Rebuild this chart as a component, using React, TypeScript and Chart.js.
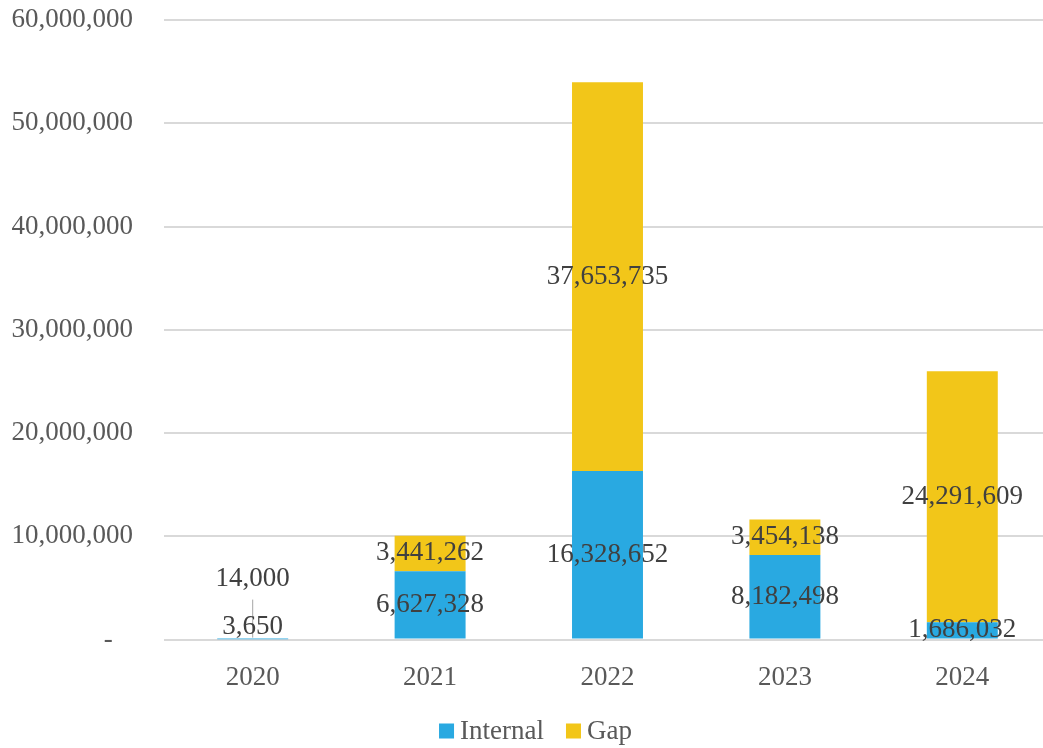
import React, { useEffect, useRef } from "react";
import { Chart, registerables } from "chart.js";

Chart.register(...registerables);

const years = ["2020", "2021", "2022", "2023", "2024"];
const internalValues = [3650, 6627328, 16328652, 8182498, 1686032];
const gapValues = [14000, 3441262, 37653735, 3454138, 24291609];
const yTicks = [0, 10000000, 20000000, 30000000, 40000000, 50000000, 60000000];

const FONT = "'Liberation Serif', 'Times New Roman', serif";
const fmt = (v: number) => v.toLocaleString("en-US");

const labelPlugin = {
  id: "segLabels",
  afterDatasetsDraw(chart: any) {
    const ctx = chart.ctx;
    ctx.save();
    ctx.font = `27px ${FONT}`;
    ctx.fillStyle = "#404040";
    ctx.textAlign = "center";
    ctx.textBaseline = "middle";
    chart.data.datasets.forEach((ds: any, di: number) => {
      const meta = chart.getDatasetMeta(di);
      meta.data.forEach((bar: any, i: number) => {
        const v = ds.data[i] as number;
        const zero = chart.scales.y.getPixelForValue(0);
        const h = Math.abs(bar.base - bar.y);
        if (h < 4) {
          if (di === 0) {
            ctx.strokeStyle = "#A6A6A6";
            ctx.lineWidth = 1;
            ctx.beginPath();
            ctx.moveTo(bar.x, zero - 2);
            ctx.lineTo(bar.x, zero - 40);
            ctx.stroke();
            ctx.fillText(fmt(v), bar.x, zero - 13);
          } else {
            ctx.fillText(fmt(v), bar.x, zero - 61);
          }
        } else {
          ctx.fillText(fmt(v), bar.x, (bar.y + bar.base) / 2);
        }
      });
    });
    ctx.restore();
  },
  afterDraw(chart: any) {
    const ctx = chart.ctx;
    ctx.save();
    ctx.font = `27px ${FONT}`;
    ctx.textBaseline = "middle";
    ctx.textAlign = "left";
    const items = chart.data.datasets.map((d: any) => ({
      text: d.label as string,
      color: d.backgroundColor as string,
      w: ctx.measureText(d.label).width,
    }));
    const box = 15, gapText = 6, gapItem = 22;
    const total = items.reduce((s: number, it: any) => s + box + gapText + it.w, 0) + gapItem * (items.length - 1);
    const cx = (chart.width - 24) / 2 + 24 - 2;
    const cy = 731;
    let x = cx - total / 2;
    items.forEach((it: any) => {
      ctx.fillStyle = it.color;
      ctx.fillRect(x, cy - box / 2, box, box);
      x += box + gapText;
      ctx.fillStyle = "#595959";
      ctx.fillText(it.text, x, cy + 1);
      x += it.w + gapItem;
    });
    ctx.restore();
  },
};

export default function App() {
  const ref = useRef<HTMLCanvasElement>(null);
  useEffect(() => {
    const canvas = ref.current!;
    const chart = new Chart(canvas, {
      type: "bar",
      data: {
        labels: years,
        datasets: [
          {
            label: "Internal",
            data: internalValues,
            backgroundColor: "#29A9E1",
            categoryPercentage: 1,
            barPercentage: 0.4,
          },
          {
            label: "Gap",
            data: gapValues,
            backgroundColor: "#F2C619",
            categoryPercentage: 1,
            barPercentage: 0.4,
          },
        ],
      },
      options: {
        responsive: false,
        animation: false,
        devicePixelRatio: 1,
        layout: { padding: { left: 0, top: 0, right: 0, bottom: 32 } },
        plugins: {
          tooltip: { enabled: false },
          legend: { display: false },
        },
        scales: {
          x: {
            stacked: true,
            grid: { display: false, drawTicks: false },
            border: { display: false },
            ticks: { font: { family: FONT, size: 27 }, color: "#595959", padding: 22 },
          },
          y: {
            stacked: true,
            min: 0,
            max: 60000000,
            afterFit: (s: any) => {
              s.width = 164;
              s.paddingTop = 20;
              s.paddingBottom = 0;
            },
            afterBuildTicks: (s: any) => {
              s.ticks = yTicks.map((v) => ({ value: v }));
            },
            grid: { color: "#D9D9D9", lineWidth: 2, drawTicks: false },
            border: { display: false },
            ticks: {
              font: { family: FONT, size: 27 },
              color: "#595959",
              padding: 31,
              callback: (v: any) => (Number(v) === 0 ? "-   " : fmt(Number(v))),
            },
          },
        },
      },
      plugins: [labelPlugin],
    });
    return () => chart.destroy();
  }, []);
  return (
    <div style={{ position: "fixed", left: 0, top: 0, width: 1043, height: 748, overflow: "hidden", background: "#fff" }}>
      <canvas ref={ref} width={1051} height={748} style={{ display: "block" }} />
    </div>
  );
}
